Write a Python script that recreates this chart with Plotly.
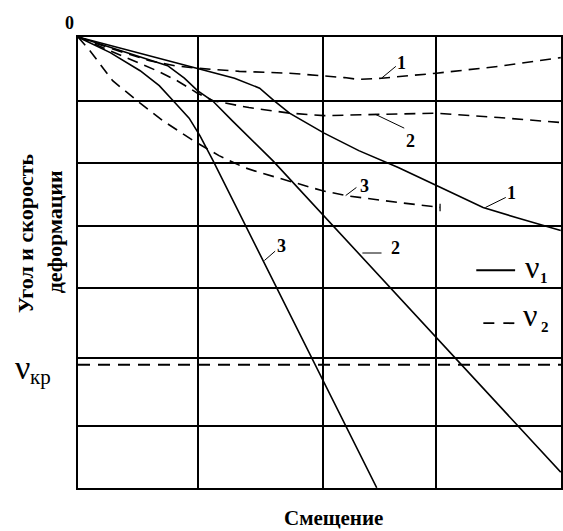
import plotly.graph_objects as go

# ---- data (x: displacement units, y: angle/strain-rate units, downward positive) ----
s1_x = [0, 0.43, 0.77, 1.0, 1.31, 1.52, 1.64, 1.77, 2.06, 2.35, 2.68, 3.0, 3.39, 3.68, 4.04]
s1_y = [0, 0.22, 0.39, 0.5, 0.66, 0.82, 1.02, 1.22, 1.54, 1.82, 2.09, 2.38, 2.73, 2.9, 3.1]

s2_x = [0, 0.43, 0.75, 0.89, 1.0, 1.13, 1.29, 1.63, 2.71, 3.16, 4.04]
s2_y = [0, 0.26, 0.46, 0.66, 0.86, 1.03, 1.34, 1.98, 4.22, 5.14, 6.97]

s3_x = [0, 0.27, 0.52, 0.68, 0.81, 0.93, 1.02, 1.13, 2.5]
s3_y = [0, 0.25, 0.54, 0.78, 1.05, 1.3, 1.58, 1.98, 7.22]

d1_x = [0, 0.14, 0.27, 0.6, 0.81, 1.0, 1.35, 1.77, 2.06, 2.23, 2.35, 2.54, 3.0, 3.52, 4.04]
d1_y = [0, 0.1, 0.18, 0.38, 0.46, 0.5, 0.55, 0.58, 0.62, 0.65, 0.68, 0.66, 0.58, 0.47, 0.33]

d2_x = [0, 0.27, 0.49, 0.66, 0.83, 1.0, 1.13, 1.43, 1.77, 2.06, 2.52, 3.0, 3.52, 4.04]
d2_y = [0, 0.22, 0.41, 0.54, 0.7, 0.9, 1.02, 1.13, 1.22, 1.26, 1.24, 1.22, 1.29, 1.37]

d3_x = [0, 0.1, 0.29, 0.52, 0.71, 0.99, 1.18, 1.39, 1.52, 1.77, 2.04, 2.24, 2.35, 2.68, 3.03]
d3_y = [0, 0.22, 0.7, 1.06, 1.34, 1.69, 1.9, 2.09, 2.17, 2.31, 2.46, 2.54, 2.57, 2.65, 2.73]

v_kr = 5.25
x_grid = [1.0, 2.05, 3.0]
y_grid = [1.03, 2.02, 3.02, 4.02, 5.14, 6.23]
X_MAX = 4.042
Y_MAX = 7.224

FONT = "Liberation Serif"
DASH = "11px,7px"

fig = go.Figure()

def line(x, y, dash="solid", width=1.6):
    fig.add_trace(go.Scatter(x=x, y=y, mode="lines", showlegend=False, hoverinfo="skip",
                             line=dict(color="black", width=width, dash=dash)))

for xs, ys in [(s1_x, s1_y), (s2_x, s2_y), (s3_x, s3_y)]:
    line(xs, ys)
for xs, ys in [(d1_x, d1_y), (d2_x, d2_y), (d3_x, d3_y)]:
    line(xs, ys, dash=DASH)

# end tick on dashed curve 3
line([d3_x[-1], d3_x[-1]], [d3_y[-1] - 0.06, d3_y[-1] + 0.06], width=1.2)

# critical level
line([0, X_MAX], [v_kr, v_kr], dash="12px,8px", width=2)

# curve labels with leaders: (label, leader x0,y0,x1,y1, text x,y)
labels = [
    ("1", 2.54, 0.66, 2.66, 0.47, 2.71, 0.41),
    ("2", 2.49, 1.24, 2.73, 1.46, 2.78, 1.66),
    ("3", 2.24, 2.54, 2.33, 2.41, 2.40, 2.38),
    ("1", 3.41, 2.73, 3.58, 2.57, 3.63, 2.50),
    ("3", 1.56, 3.58, 1.65, 3.43, 1.70, 3.34),
    ("2", 2.38, 3.46, 2.54, 3.46, 2.66, 3.38),
]
annotations = []

def ann(x, y, text, size, bold=False, angle=0, ref="data"):
    annotations.append(dict(x=x, y=y, text=text, showarrow=False, textangle=angle,
                            xanchor="center", yanchor="middle",
                            xref="x" if ref == "data" else "paper",
                            yref="y" if ref == "data" else "paper",
                            font=dict(family=FONT, size=size, color="black",
                                      weight="bold" if bold else "normal")))

for t, x0, y0, x1, y1, tx, ty in labels:
    line([x0, x1], [y0, y1], width=1)
    ann(tx, ty, t, 18, bold=True)

# legend glyphs
line([3.333, 3.658], [3.736, 3.736], width=2)
line([3.392, 3.70], [4.584, 4.584], dash="11px,9px", width=1.8)

ann(3.80, 3.68, "ν", 32)
ann(3.90, 3.86, "1", 15, bold=True)
ann(3.78, 4.45, "ν", 32)
ann(3.91, 4.65, "2", 15, bold=True)

ann(-0.1155, 0.268, "ν", 34, ref="paper")
ann(-0.078, 0.246, "кр", 21, ref="paper")

ann(-0.0186, 1.03, "0", 18, bold=True, ref="paper")
ann(0.528, -0.066, "Смещение", 21, bold=True, ref="paper")
ann(-0.109, 0.564, "Угол и скорость", 22, bold=True, angle=-90, ref="paper")
ann(-0.0495, 0.567, "деформации", 22, bold=True, angle=-90, ref="paper")

fig.update_layout(
    width=563, height=531,
    margin=dict(l=78, r=0, t=37, b=43),
    paper_bgcolor="white", plot_bgcolor="white",
    annotations=annotations,
    xaxis=dict(range=[0, X_MAX], tickvals=x_grid, showticklabels=False, ticks="",
               showgrid=True, gridcolor="black", gridwidth=2, zeroline=False,
               showline=True, linecolor="black", linewidth=2, mirror=True),
    yaxis=dict(range=[Y_MAX, 0], tickvals=y_grid, showticklabels=False, ticks="",
               showgrid=True, gridcolor="black", gridwidth=2, zeroline=False,
               showline=True, linecolor="black", linewidth=2, mirror=True),
)

fig.write_html(
    "out.html",
    config={"displayModeBar": False},
    post_script="document.body.style.margin='0px';document.documentElement.style.overflow='hidden';",
)
